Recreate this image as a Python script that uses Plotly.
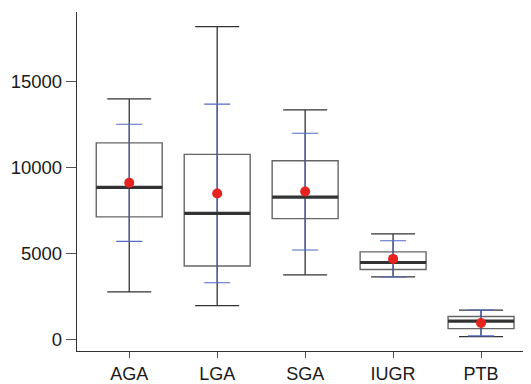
import plotly.graph_objects as go

categories = ["AGA", "LGA", "SGA", "IUGR", "PTB"]
minimum = [2790, 2000, 3780, 3660, 190]
q1 = [7150, 4300, 7050, 4090, 660]
median = [8860, 7350, 8300, 4500, 1100]
q3 = [11450, 10780, 10410, 5120, 1360]
maximum = [14000, 18200, 13370, 6160, 1730]
mean = [9130, 8510, 8620, 4710, 990]
sd = [3400, 5190, 3390, 1050, 750]
y_ticks = [0, 5000, 10000, 15000]
y_tick_labels = ["0", "5000", "10000", "15000"]

xs = list(range(len(categories)))
box_w = 0.75

fig = go.Figure()

# min-max whiskers (black)
fig.add_trace(go.Scatter(
    x=xs, y=median, mode="markers",
    marker=dict(color="rgba(0,0,0,0)", size=1),
    error_y=dict(type="data", symmetric=False,
                 array=[mx - md for mx, md in zip(maximum, median)],
                 arrayminus=[md - mn for md, mn in zip(median, minimum)],
                 color="#333333", thickness=1.3, width=22),
    hoverinfo="skip", showlegend=False))

# boxes
fig.add_trace(go.Box(
    x=xs, q1=q1, median=median, q3=q3, lowerfence=q1, upperfence=q3,
    width=box_w, line=dict(color="#666666", width=1.4),
    fillcolor="rgba(255,255,255,0)", showlegend=False, hoverinfo="skip"))

# mean +/- SD (blue)
fig.add_trace(go.Scatter(
    x=xs, y=mean, mode="markers",
    marker=dict(color="rgba(0,0,0,0)", size=1),
    error_y=dict(type="data", array=sd, color="#5468c4", thickness=1.1, width=13),
    hoverinfo="skip", showlegend=False))

# thick median lines
mx_, my_ = [], []
for i, m in zip(xs, median):
    mx_ += [i - box_w / 2, i + box_w / 2, None]
    my_ += [m, m, None]
fig.add_trace(go.Scatter(x=mx_, y=my_, mode="lines",
                         line=dict(color="#333333", width=3.2),
                         hoverinfo="skip", showlegend=False))

# mean dots
fig.add_trace(go.Scatter(x=xs, y=mean, mode="markers",
                         marker=dict(color="#e8231f", size=10),
                         hoverinfo="skip", showlegend=False))

x_font = dict(family="Liberation Sans, Arial, sans-serif", size=18, color="#1a1a1a")
y_font = dict(family="Liberation Sans, Arial, sans-serif", size=18.5, color="#1a1a1a")
# page body has an 8px default margin; compensate so the plot lands where it should
fig.update_layout(
    width=523, height=384,
    margin=dict(l=69, r=0, t=4, b=41),
    paper_bgcolor="white", plot_bgcolor="white",
    showlegend=False,
    xaxis=dict(range=[-0.594, 4.568], tickvals=xs, ticktext=categories,
               showgrid=False, zeroline=False, showline=True,
               linecolor="#333333", linewidth=1.3,
               ticks="outside", ticklen=6, tickwidth=1.1, tickcolor="#555555",
               tickfont=x_font, automargin=False),
    yaxis=dict(range=[-640, 19050], tickvals=y_ticks, ticktext=y_tick_labels,
               showgrid=False, zeroline=False, showline=True,
               linecolor="#333333", linewidth=1.3,
               ticks="outside", ticklen=10, tickwidth=1.1, tickcolor="#555555",
               tickfont=y_font, automargin=False),
)

fig.write_html("out.html")
